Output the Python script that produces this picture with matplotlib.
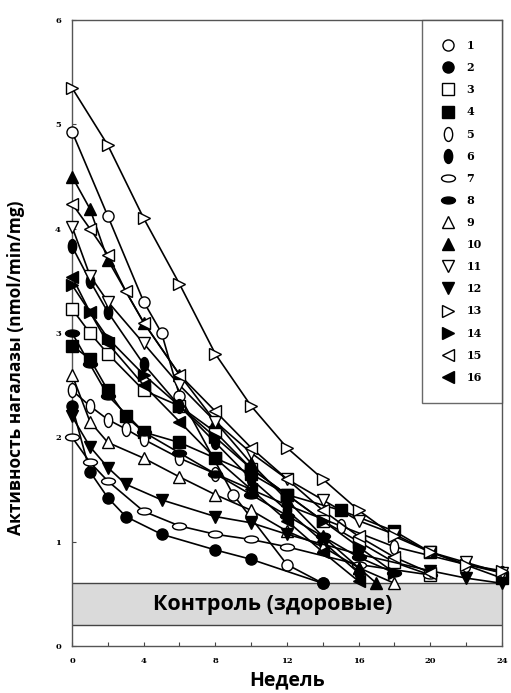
import matplotlib
matplotlib.use("Agg")
import matplotlib.pyplot as plt
from matplotlib.path import Path
from matplotlib.transforms import Affine2D
from matplotlib.lines import Line2D

# weeks / activity (nmol/min/mg) per patient
x1 = [0, 2, 4, 5, 6, 9, 12, 14]
y1 = [4.93, 4.12, 3.3, 3.0, 2.4, 1.45, 0.78, 0.6]
x2 = [0, 1, 2, 3, 5, 8, 10, 14]
y2 = [2.3, 1.67, 1.42, 1.24, 1.07, 0.92, 0.83, 0.6]
x3 = [0, 1, 2, 4, 6, 8, 10, 12, 14, 16, 18, 20]
y3 = [3.23, 3.0, 2.8, 2.45, 2.3, 2.05, 1.7, 1.45, 1.2, 1.0, 0.8, 0.68]
x4 = [0, 1, 2, 3, 4, 6, 8, 10, 12, 15, 18, 20, 24]
y4 = [2.88, 2.75, 2.45, 2.2, 2.05, 1.95, 1.8, 1.65, 1.45, 1.3, 1.1, 0.9, 0.65]
x5 = [0, 1, 2, 3, 4, 6, 8, 10, 12, 15, 18, 22, 24]
y5 = [2.45, 2.3, 2.17, 2.08, 1.98, 1.8, 1.65, 1.5, 1.35, 1.15, 0.95, 0.78, 0.7]
x6 = [0, 1, 2, 4, 6, 8, 10, 12, 14, 16]
y6 = [3.83, 3.5, 3.2, 2.7, 2.3, 1.95, 1.6, 1.3, 1.0, 0.7]
x7 = [0, 1, 2, 4, 6, 8, 10, 12, 16, 20]
y7 = [2.0, 1.76, 1.58, 1.29, 1.15, 1.07, 1.02, 0.95, 0.78, 0.68]
x8 = [0, 1, 2, 4, 6, 8, 10, 12, 14, 16, 18]
y8 = [3.0, 2.7, 2.4, 2.05, 1.85, 1.65, 1.45, 1.25, 1.05, 0.85, 0.7]
x9 = [0, 1, 2, 4, 6, 8, 10, 12, 14, 16, 18]
y9 = [2.6, 2.15, 1.95, 1.8, 1.62, 1.45, 1.3, 1.1, 0.95, 0.75, 0.6]
x10 = [0, 1, 2, 4, 6, 8, 10, 12, 14, 16, 17]
y10 = [4.5, 4.19, 3.7, 3.1, 2.6, 2.15, 1.75, 1.4, 1.05, 0.75, 0.6]
x11 = [0, 1, 2, 4, 6, 8, 10, 12, 14, 16, 18, 20, 22, 24]
y11 = [4.02, 3.55, 3.3, 2.9, 2.5, 2.15, 1.85, 1.6, 1.4, 1.2, 1.07, 0.9, 0.8, 0.7]
x12 = [0, 1, 2, 3, 5, 8, 10, 12, 16, 20, 22, 24]
y12 = [2.2, 1.91, 1.71, 1.55, 1.4, 1.24, 1.18, 1.07, 0.88, 0.72, 0.65, 0.6]
x13 = [0, 2, 4, 6, 8, 10, 12, 14, 16, 18, 20, 22, 24]
y13 = [5.35, 4.8, 4.1, 3.47, 2.8, 2.3, 1.9, 1.6, 1.3, 1.05, 0.9, 0.78, 0.72]
x14 = [0, 1, 2, 4, 6, 8, 10, 12, 14, 16, 18]
y14 = [3.46, 3.2, 2.95, 2.6, 2.3, 2.0, 1.7, 1.45, 1.2, 0.95, 0.7]
x15 = [0, 1, 2, 3, 4, 6, 8, 10, 12, 14, 16, 18, 20]
y15 = [4.24, 4.0, 3.75, 3.4, 3.1, 2.6, 2.25, 1.9, 1.6, 1.3, 1.05, 0.85, 0.7]
x16 = [0, 1, 2, 4, 6, 8, 10, 12, 14, 16]
y16 = [3.54, 3.2, 2.9, 2.5, 2.15, 1.8, 1.5, 1.2, 0.9, 0.62]

labels = [str(i) for i in range(1, 17)]
control_low, control_high = 0.2, 0.6

xs = [x1, x2, x3, x4, x5, x6, x7, x8, x9, x10, x11, x12, x13, x14, x15, x16]
ys = [y1, y2, y3, y4, y5, y6, y7, y8, y9, y10, y11, y12, y13, y14, y15, y16]

circ = Path.unit_circle()
vell = circ.transformed(Affine2D().scale(0.6, 1.0))
hell = circ.transformed(Affine2D().scale(1.0, 0.5))

markers = ["o", "o", "s", "s", vell, vell, hell, hell,
           "^", "^", "v", "v", ">", ">", "<", "<"]
msizes = [8, 8, 8, 8, 10, 10, 10, 10, 8, 8, 8, 8, 8, 8, 8, 8]
fills = ["white", "black"] * 8

fig = plt.figure(figsize=(5.11, 6.93), dpi=100)
ax = fig.add_axes([0.141, 0.068, 0.841, 0.903])

ax.axhspan(control_low, control_high, facecolor="#dadada", edgecolor="none", zorder=0)
ax.axhline(control_low, color="#444444", lw=1.0, zorder=1)
ax.axhline(control_high, color="#444444", lw=1.0, zorder=1)
ax.text(11.2, 0.4, "Контроль (здоровые)", ha="center", va="center",
        fontsize=15.5, fontweight="bold", family="Open Sans", zorder=2)

for i in range(16):
    ax.plot(xs[i], ys[i], color="black", lw=1.2, marker=markers[i],
            markersize=msizes[i], markerfacecolor=fills[i], markeredgecolor="black",
            markeredgewidth=1.0, clip_on=False, zorder=3)

ax.set_xlim(0, 24)
ax.set_ylim(0, 6)
ax.set_xticks([0, 4, 8, 12, 16, 20, 24])
ax.set_xticks([2, 6, 10, 14, 18, 22], minor=True)
ax.set_yticks([0, 1, 2, 3, 4, 5, 6])
ax.tick_params(axis="both", which="both", direction="in", length=3,
               width=0.8, color="#444444", labelsize=6, pad=8)
for lab in ax.get_xticklabels() + ax.get_yticklabels():
    lab.set_family("DejaVu Serif")
    lab.set_fontweight("bold")
for sp in ax.spines.values():
    sp.set_color("#555555")
    sp.set_linewidth(1.0)

ax.set_xlabel("Недель", fontsize=14, fontweight="bold", family="Open Sans", labelpad=4)
ax.set_ylabel("Активность нагалазы (nmol/min/mg)", fontsize=12.5,
              fontweight="bold", family="Open Sans")
ax.yaxis.set_label_coords(-0.11, 0.445)

handles = [Line2D([], [], linestyle="none", marker=markers[i], markersize=msizes[i],
                  markerfacecolor=fills[i], markeredgecolor="black")
           for i in range(16)]
leg = ax.legend(handles, labels, loc="upper right", bbox_to_anchor=(1, 1),
                borderaxespad=0, frameon=True, fancybox=False,
                prop={"family": "DejaVu Serif", "weight": "bold", "size": 8},
                labelspacing=1.0, handlelength=1.0, handletextpad=1.2,
                borderpad=1.8)
leg.get_frame().set_edgecolor("#444444")
leg.get_frame().set_linewidth(1.0)

fig.savefig("out.png", dpi=100)
